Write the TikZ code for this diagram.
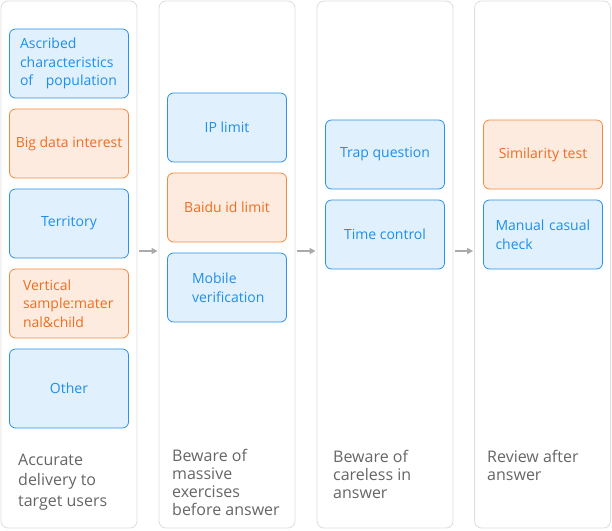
\documentclass[tikz,border=0pt]{standalone}
\usepackage{fontspec}
\setmainfont{Open Sans}
\usepackage{tikz}
\usetikzlibrary{shapes,arrows.meta,positioning}

\definecolor{panelgray}{HTML}{DDDDDD}
\definecolor{arrowgray}{HTML}{AAAAAA}
\definecolor{captiongray}{HTML}{666666}
\definecolor{boxblue}{HTML}{2A92EA}
\definecolor{fillblue}{HTML}{E1F0FD}
\definecolor{textblue}{HTML}{1E8FEA}
\definecolor{boxorange}{HTML}{F5893F}
\definecolor{fillorange}{HTML}{FDEBDF}
\definecolor{textorange}{HTML}{EE6E22}

\begin{document}
\begin{tikzpicture}[
    x=1pt, y=-1pt,
    node distance=11pt,
    mypanel/.style={draw=panelgray, fill=white, rounded corners=7pt, minimum width=136pt, minimum height=527pt, inner sep=0pt, line width=0.8pt},
    mybox/.style={draw, rounded corners=6pt, minimum width=119pt, minimum height=69pt, inner sep=0pt, outer sep=0pt, line width=0.8pt, align=center, font=\fontsize{14}{18.5}\selectfont},
    myblue/.style={mybox, draw=boxblue, fill=fillblue, text=textblue},
    myorange/.style={mybox, draw=boxorange, fill=fillorange, text=textorange},
    mycaption/.style={anchor=north west, inner sep=0pt, align=left, text=captiongray, font=\fontsize{16}{18}\selectfont},
    myedge/.style={-{Triangle[length=6pt,width=6pt]}, line width=1.5pt, draw=arrowgray}
]
\useasboundingbox (0,0) rectangle (612,530);

% four stages
\node[mypanel] (P1) at (69,264.5) {};
\node[mypanel] (P2) at (227,264.5) {};
\node[mypanel] (P3) at (385,264.5) {};
\node[mypanel] (P4) at (542.5,264.5) {};

% stage 1
\node[myblue, anchor=north, text width=98pt, align=left] (A1) at (69,29) {Ascribed\\characteristics\\of\hspace{8pt} population};
\node[myorange] (A2) [below=of A1] {Big data interest};
\node[myblue] (A3) [below=of A2] {Territory};
\node[myorange, text width=92pt, align=left] (A4) [below=of A3] {Vertical\\sample:mater\\nal\&child};
\node[myblue, minimum height=79pt] (A5) [below=of A4] {Other};
\node[mycaption, font=\fontsize{16}{20.5}\selectfont] (T1) at (18,453.6) {Accurate\\delivery to\\target users};

% stage 2
\node[myblue, anchor=north] (B1) at (227,93) {IP limit};
\node[myorange] (B2) [below=of B1] {Baidu id limit};
\node[myblue, text width=70pt, align=left] (B3) [below=of B2] {Mobile\\verification};
\node[mycaption] (T2) at (172,449.5) {Beware of\\massive\\exercises\\before answer};

% stage 3
\node[myblue, anchor=north] (C1) at (385,120) {Trap question};
\node[myblue] (C2) [below=of C1] {Time control};
\node[mycaption] (T3) at (333,450) {Beware of\\careless in\\answer};

% stage 4
\node[myorange, anchor=north] (D1) at (543,120) {Similarity test};
\node[myblue, text width=95pt, align=left] (D2) [below=of D1] {\mbox{Manual casual}\\check};
\node[mycaption] (T4) at (487,450) {Review after\\answer};

\draw[myedge] ([xshift=2pt,yshift=13.5pt]P1.east) -- ([xshift=-1pt,yshift=13.5pt]P2.west);
\draw[myedge] ([xshift=2pt,yshift=13.5pt]P2.east) -- ([xshift=-1pt,yshift=13.5pt]P3.west);
\draw[myedge] ([xshift=2pt,yshift=13.5pt]P3.east) -- ([xshift=-1pt,yshift=13.5pt]P4.west);
\end{tikzpicture}
\end{document}
